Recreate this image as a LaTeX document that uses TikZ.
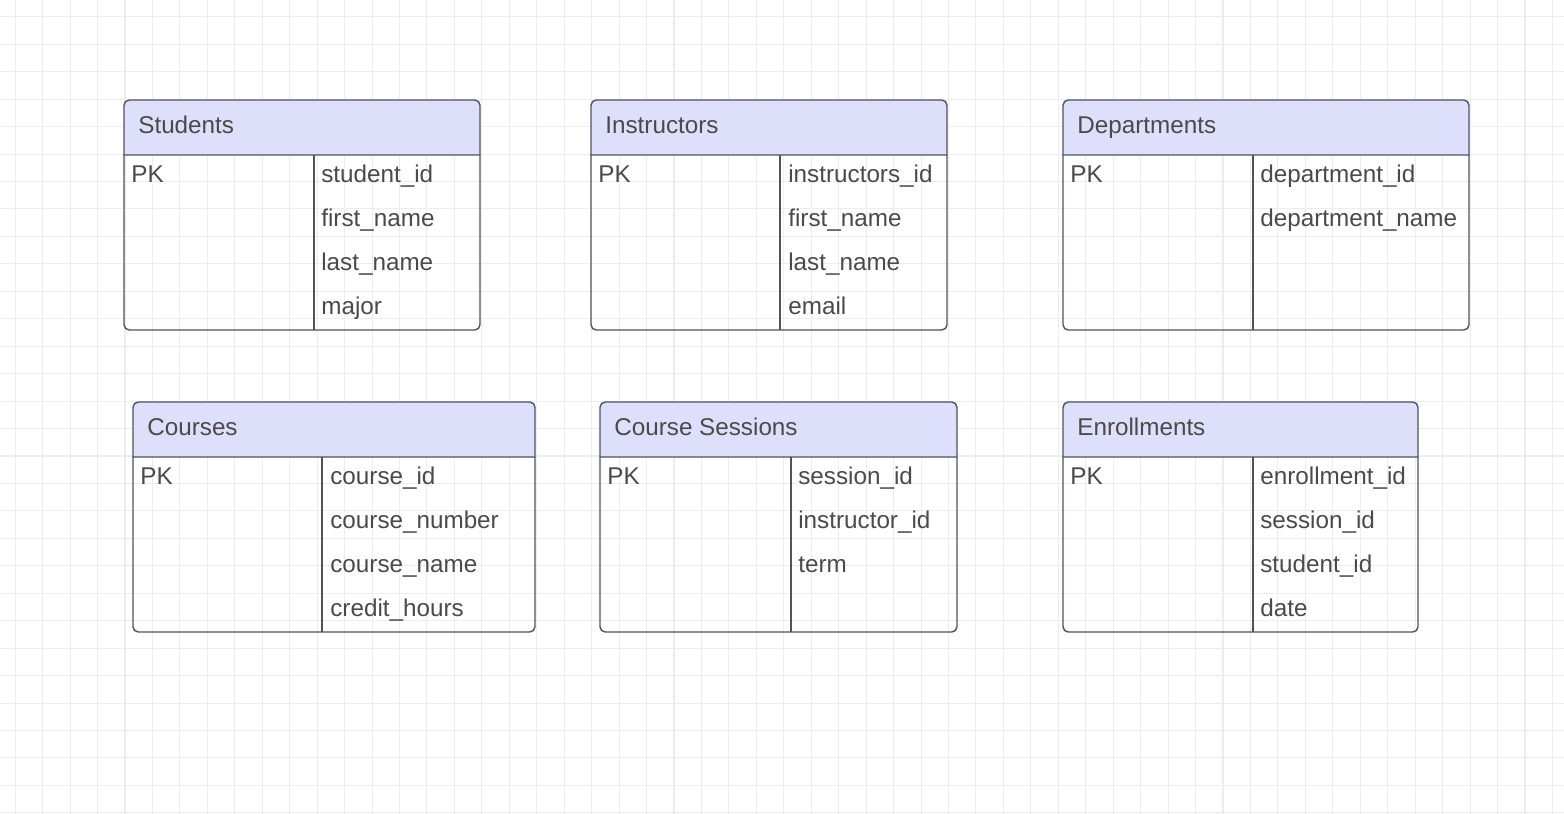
\documentclass[tikz,border=0pt]{standalone}
\usepackage{fontspec}
\setmainfont{Liberation Sans}
\usepackage{tikz}
\usetikzlibrary{calc}

\definecolor{headfill}{HTML}{DEDFFB}
\definecolor{framecol}{HTML}{50535E}
\definecolor{textcol}{HTML}{4A4A4A}
\definecolor{gridcol}{HTML}{EDEDED}

\begin{document}
\begin{tikzpicture}[x=0.02cm, y=-0.02cm,
    gridline/.style={gridcol, line width=0.6pt},
    head/.style={fill=headfill, draw=framecol, line width=0.8pt},
    frame/.style={draw=framecol, line width=0.8pt},
    title/.style={anchor=base west, inner sep=0pt, text=textcol, font=\fontsize{13.8}{16}\selectfont},
    field/.style={anchor=base west, inner sep=0pt, text=textcol, font=\fontsize{13.8}{16}\selectfont}]

    % Фон и сетка
    \useasboundingbox (0,0) rectangle (1564,814);
    \fill[white] (0,0) rectangle (1564,814);
    \foreach \i in {0,...,56}
        \draw[gridline] ({15.2+27.45*\i},0) -- ++(0,814);
    \foreach \j in {0,...,29}
        \draw[gridline] (0,{16.8+27.45*\j}) -- ++(1564,0);

    % Таблица Students
    \filldraw[head] (124,155) {[rounded corners=3pt] -- (124,100) -- (480,100)} -- (480,155) -- cycle;
    \draw[frame] (124,155) {[rounded corners=3pt] -- (124,330) -- (480,330)} -- (480,155);
    \draw[frame] (314,155) -- (314,330);
    \node[title] (students) at (138,133.5) {Students};
    \node[field] (students-pk) at (131,182.5) {PK};
    \foreach \f [count=\k] in {student\_id, first\_name, last\_name, major}
        \node[field] (students-\k) at (321,{138.5+44*\k}) {\f};

    % Таблица Instructors
    \filldraw[head] (591,155) {[rounded corners=3pt] -- (591,100) -- (947,100)} -- (947,155) -- cycle;
    \draw[frame] (591,155) {[rounded corners=3pt] -- (591,330) -- (947,330)} -- (947,155);
    \draw[frame] (780,155) -- (780,330);
    \node[title] (instructors) at (605,133.5) {Instructors};
    \node[field] (instructors-pk) at (598,182.5) {PK};
    \foreach \f [count=\k] in {instructors\_id, first\_name, last\_name, email}
        \node[field] (instructors-\k) at (788,{138.5+44*\k}) {\f};

    % Таблица Departments
    \filldraw[head] (1063,155) {[rounded corners=3pt] -- (1063,100) -- (1469,100)} -- (1469,155) -- cycle;
    \draw[frame] (1063,155) {[rounded corners=3pt] -- (1063,330) -- (1469,330)} -- (1469,155);
    \draw[frame] (1253,155) -- (1253,330);
    \node[title] (departments) at (1077,133.5) {Departments};
    \node[field] (departments-pk) at (1070,182.5) {PK};
    \foreach \f [count=\k] in {department\_id, department\_name}
        \node[field] (departments-\k) at (1260,{138.5+44*\k}) {\f};

    % Таблица Courses
    \filldraw[head] (133,457) {[rounded corners=3pt] -- (133,402) -- (535,402)} -- (535,457) -- cycle;
    \draw[frame] (133,457) {[rounded corners=3pt] -- (133,632) -- (535,632)} -- (535,457);
    \draw[frame] (322,457) -- (322,632);
    \node[title] (courses) at (147,435.5) {Courses};
    \node[field] (courses-pk) at (140,484.5) {PK};
    \foreach \f [count=\k] in {course\_id, course\_number, course\_name, credit\_hours}
        \node[field] (courses-\k) at (330,{440.5+44*\k}) {\f};

    % Таблица Course Sessions
    \filldraw[head] (600,457) {[rounded corners=3pt] -- (600,402) -- (957,402)} -- (957,457) -- cycle;
    \draw[frame] (600,457) {[rounded corners=3pt] -- (600,632) -- (957,632)} -- (957,457);
    \draw[frame] (791,457) -- (791,632);
    \node[title] (sessions) at (614,435.5) {Course Sessions};
    \node[field] (sessions-pk) at (607,484.5) {PK};
    \foreach \f [count=\k] in {session\_id, instructor\_id, term}
        \node[field] (sessions-\k) at (798,{440.5+44*\k}) {\f};

    % Таблица Enrollments
    \filldraw[head] (1063,457) {[rounded corners=3pt] -- (1063,402) -- (1418,402)} -- (1418,457) -- cycle;
    \draw[frame] (1063,457) {[rounded corners=3pt] -- (1063,632) -- (1418,632)} -- (1418,457);
    \draw[frame] (1253,457) -- (1253,632);
    \node[title] (enrollments) at (1077,435.5) {Enrollments};
    \node[field] (enrollments-pk) at (1070,484.5) {PK};
    \foreach \f [count=\k] in {enrollment\_id, session\_id, student\_id, date}
        \node[field] (enrollments-\k) at (1260,{440.5+44*\k}) {\f};
\end{tikzpicture}
\end{document}
